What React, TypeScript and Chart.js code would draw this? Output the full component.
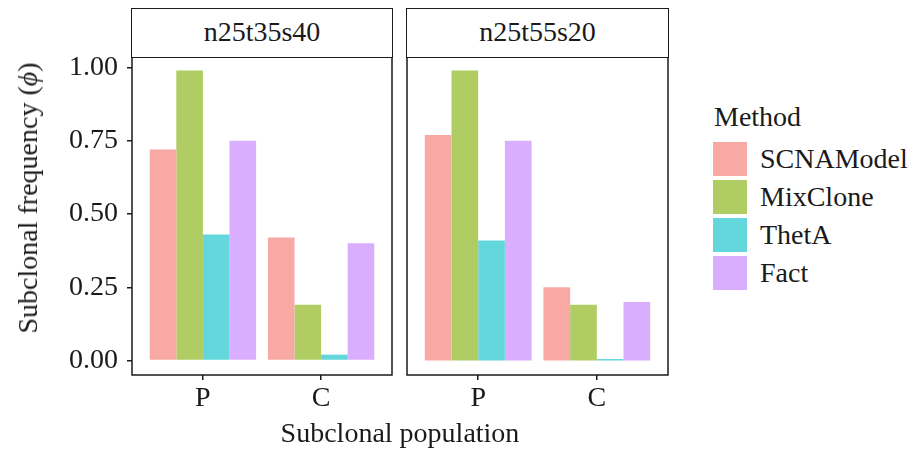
import React, { useEffect, useRef } from 'react';
import { Chart, registerables } from 'chart.js';

Chart.register(...registerables);

// ---- data ----
const categories = ['P', 'C'];
const categoryPositions = [1, 2];
const panels = ['n25t35s40', 'n25t55s20'];
const methods = ['SCNAModel', 'MixClone', 'ThetA', 'Fact'];
const methodColors = ['#F8A9A4', '#AFCD63', '#63D7DB', '#DAAEFF'];
const yTickValues = [0, 0.25, 0.5, 0.75, 1];

const scnaModelT35 = [0.72, 0.42];
const mixCloneT35 = [0.99, 0.19];
const thetaT35 = [0.43, 0.02];
const factT35 = [0.75, 0.4];

const scnaModelT55 = [0.77, 0.25];
const mixCloneT55 = [0.99, 0.19];
const thetaT55 = [0.41, 0.005];
const factT55 = [0.75, 0.2];

const panelSeries = [
  [scnaModelT35, mixCloneT35, thetaT35, factT35],
  [scnaModelT55, mixCloneT55, thetaT55, factT55],
];

const FONT = 'Liberation Serif';
const FS = 28;
const INK = '#1a1a1a';

const panelBorder = {
  id: 'panelBorder',
  afterDatasetsDraw(chart: any) {
    const { ctx, chartArea: a } = chart;
    ctx.save();
    ctx.strokeStyle = INK;
    ctx.lineWidth = 1.5;
    ctx.strokeRect(a.left, a.top, a.right - a.left, a.bottom - a.top);
    ctx.restore();
  },
};

function Panel(props: { index: number; left: number; width: number; padLeft: number; padRight: number; showY: boolean }) {
  const ref = useRef<HTMLCanvasElement>(null);
  const { index, left, width, padLeft, padRight, showY } = props;
  useEffect(() => {
    const series = panelSeries[index];
    const chart = new Chart(ref.current as HTMLCanvasElement, {
      type: 'bar',
      data: {
        datasets: methods.map((m, i) => ({
          label: m,
          data: categoryPositions.map((x, j) => ({ x, y: series[i][j] })),
          backgroundColor: methodColors[i],
          borderWidth: 0,
          categoryPercentage: 0.9,
          barPercentage: 1,
        })),
      } as any,
      options: {
        responsive: false,
        animation: false,
        devicePixelRatio: 1,
        layout: { padding: { top: 56, right: padRight, left: padLeft, bottom: 0 } },
        plugins: { legend: { display: false }, tooltip: { enabled: false } },
        scales: {
          x: {
            type: 'linear',
            min: 0.4,
            max: 2.6,
            offset: false,
            afterBuildTicks: (s: any) => {
              s.ticks = categoryPositions.map((v) => ({ value: v }));
            },
            afterFit: (s: any) => {
              s.height = 75;
            },
            ticks: {
              callback: (v: any) => {
                const k = categoryPositions.indexOf(Number(v));
                return k >= 0 ? categories[k] : '';
              },
              font: { family: FONT, size: FS },
              color: INK,
              padding: 2,
              autoSkip: false,
              maxRotation: 0,
            },
            grid: { display: true, offset: false, drawOnChartArea: false, drawTicks: true, tickLength: 5, color: INK, lineWidth: 1.5 },
            border: { display: false },
          },
          y: {
            type: 'linear',
            display: showY,
            min: -0.0495,
            max: 1.0395,
            afterBuildTicks: (s: any) => {
              s.ticks = yTickValues.map((v) => ({ value: v }));
            },
            afterFit: (s: any) => {
              s.width = showY ? 132 : 0;
            },
            ticks: {
              callback: (v: any) => Number(v).toFixed(2),
              font: { family: FONT, size: FS },
              color: INK,
              padding: 9,
            },
            grid: { display: true, drawOnChartArea: false, drawTicks: true, tickLength: 5, color: INK, lineWidth: 1.5 },
            border: { display: false },
          },
        },
      } as any,
      plugins: [panelBorder],
    });
    return () => chart.destroy();
  }, [index, left, width, padLeft, padRight, showY]);
  return (
    <canvas
      ref={ref}
      width={width}
      height={450}
      style={{ position: 'absolute', left, top: 0, width, height: 450 }}
    />
  );
}

function Strip(props: { left: number; width: number; text: string }) {
  return (
    <div
      style={{
        position: 'absolute',
        left: props.left,
        top: 8,
        width: props.width,
        height: 49.5,
        boxSizing: 'border-box',
        border: `1.5px solid ${INK}`,
        background: '#fff',
        textAlign: 'center',
        lineHeight: '46px',
        fontSize: FS,
        color: INK,
        fontFamily: FONT,
      }}
    >
      {props.text}
    </div>
  );
}

export default function App() {
  return (
    <div
      style={{
        position: 'absolute',
        left: 0,
        top: 0,
        width: 914,
        height: 450,
        background: '#fff',
        fontFamily: FONT,
        color: INK,
        overflow: 'hidden',
      }}
    >
      <Panel index={0} left={0} width={400} padLeft={0} padRight={8} showY={true} />
      <Panel index={1} left={400} width={276} padLeft={7} padRight={8} showY={false} />
      <Strip left={131.25} width={261.5} text={panels[0]} />
      <Strip left={406.25} width={262.5} text={panels[1]} />
      {/* y-axis title */}
      <div
        style={{
          position: 'absolute',
          left: 28,
          top: 198,
          transform: 'translate(-50%, -50%) rotate(-90deg)',
          whiteSpace: 'nowrap',
          fontSize: FS,
          lineHeight: '32px',
        }}
      >
        Subclonal frequency (<i>ϕ</i>)
      </div>
      {/* x-axis title */}
      <div
        style={{
          position: 'absolute',
          left: 250,
          width: 300,
          top: 417,
          textAlign: 'center',
          fontSize: FS,
          lineHeight: '32px',
          whiteSpace: 'nowrap',
        }}
      >
        Subclonal population
      </div>
      {/* legend */}
      <div style={{ position: 'absolute', left: 714, top: 100, fontSize: FS, lineHeight: '34px' }}>Method</div>
      {methods.map((m, i) => (
        <div key={m} style={{ position: 'absolute', left: 713, top: 142 + i * 38, height: 34, display: 'flex', alignItems: 'center' }}>
          <div style={{ width: 34, height: 34, background: methodColors[i] }} />
          <div style={{ marginLeft: 13, fontSize: FS, lineHeight: '34px', whiteSpace: 'nowrap' }}>{m}</div>
        </div>
      ))}
    </div>
  );
}
